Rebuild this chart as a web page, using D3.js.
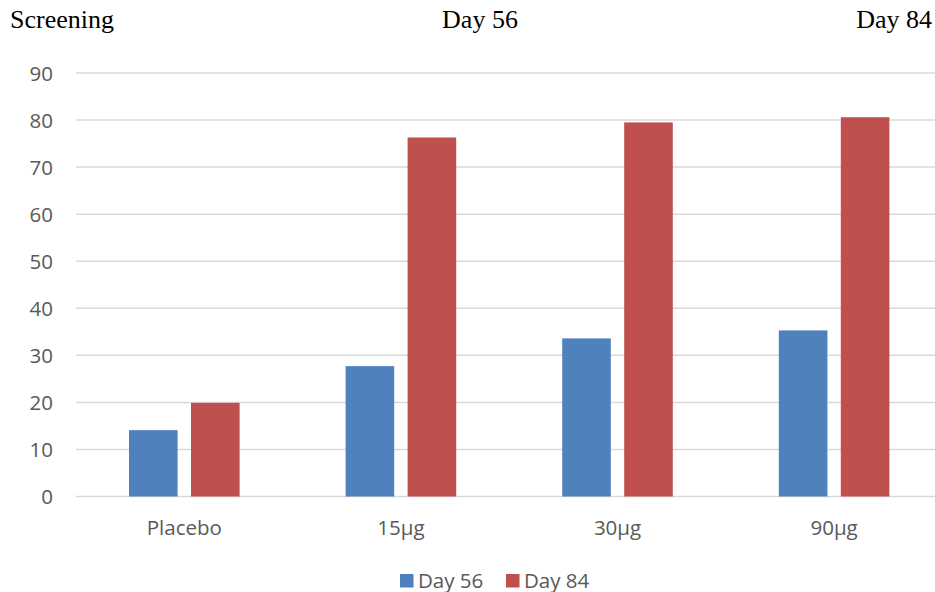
<!DOCTYPE html>
<html>
<head>
<meta charset="utf-8">
<script src="https://cdn.jsdelivr.net/npm/d3@7/dist/d3.min.js"></script>
<style>
  html, body { margin: 0; padding: 0; background: #fff; }
  svg { display: block; }
</style>
</head>
<body>
<script>
// Chart data
const categories = ["Placebo", "15µg", "30µg", "90µg"];
const seriesNames = ["Day 56", "Day 84"];
const day56 = [14.1, 27.7, 33.6, 35.3];
const day84 = [19.9, 76.3, 79.5, 80.6];
const yTicks = [0, 10, 20, 30, 40, 50, 60, 70, 80, 90];
const headerLabels = ["Screening", "Day 56", "Day 84"];
const colors = ["#4F81BD", "#C0504D"];

const W = 935, H = 592;
const svg = d3.select("body").append("svg").attr("width", W).attr("height", H);

const plot = { left: 76, right: 942.4, top: 73, bottom: 496.5 };
const labelFont = "'Open Sans', sans-serif";
const labelSize = 20.5;

const x0 = d3.scaleBand().domain(categories).range([plot.left, plot.right]).padding(0);
const groupW = 110.6;
const x1 = d3.scaleBand().domain(seriesNames)
  .range([(x0.bandwidth() - groupW) / 2, (x0.bandwidth() + groupW) / 2])
  .paddingInner(0.216).paddingOuter(0);
const y = d3.scaleLinear().domain([0, 90]).range([plot.bottom, plot.top]);

// Header line
const header = svg.append("g").attr("font-family", "'Liberation Serif', 'Times New Roman', serif")
  .attr("font-size", 26).attr("fill", "#000");
header.append("text").attr("x", 10).attr("y", 28).text(headerLabels[0]);
header.append("text").attr("x", 480).attr("y", 28).attr("text-anchor", "middle").text(headerLabels[1]);
header.append("text").attr("x", 932).attr("y", 28).attr("text-anchor", "end").text(headerLabels[2]);

// Gridlines
svg.append("g").selectAll("line").data(yTicks).join("line")
  .attr("x1", plot.left).attr("x2", W)
  .attr("y1", d => y(d)).attr("y2", d => y(d))
  .attr("stroke", "#d9d9d9").attr("stroke-width", 1.5);

// Y axis labels
const yAxis = svg.append("g").attr("transform", `translate(${plot.left - 23},0)`)
  .call(d3.axisLeft(y).tickValues(yTicks).tickSize(0).tickPadding(0));
yAxis.select(".domain").remove();
yAxis.selectAll("text").attr("font-family", labelFont).attr("font-size", labelSize)
  .attr("fill", "#595959").attr("dy", "0.35em");

// X axis labels
const xAxis = svg.append("g").attr("transform", `translate(0,${plot.bottom})`)
  .call(d3.axisBottom(x0).tickSize(0).tickPadding(24));
xAxis.select(".domain").remove();
xAxis.selectAll("text").attr("font-family", labelFont).attr("font-size", labelSize)
  .attr("fill", "#595959");

// Bars
const rows = categories.map((c, i) => ({ cat: c, vals: [day56[i], day84[i]] }));
const groups = svg.append("g").selectAll("g").data(rows).join("g")
  .attr("transform", d => `translate(${x0(d.cat)},0)`);
groups.selectAll("rect").data(d => d.vals.map((v, j) => ({ s: seriesNames[j], v, j })))
  .join("rect")
  .attr("x", d => x1(d.s))
  .attr("width", x1.bandwidth())
  .attr("y", d => y(d.v))
  .attr("height", d => y(0) - y(d.v))
  .attr("fill", d => colors[d.j]);

// Legend
const legend = svg.append("g").attr("font-family", labelFont).attr("font-size", labelSize).attr("fill", "#595959");
const legendX = [400, 506];
seriesNames.forEach((s, j) => {
  legend.append("rect").attr("x", legendX[j]).attr("y", 574).attr("width", 13.5).attr("height", 13.5).attr("fill", colors[j]);
  legend.append("text").attr("x", legendX[j] + 18).attr("y", 587.5).text(s);
});
</script>
</body>
</html>
